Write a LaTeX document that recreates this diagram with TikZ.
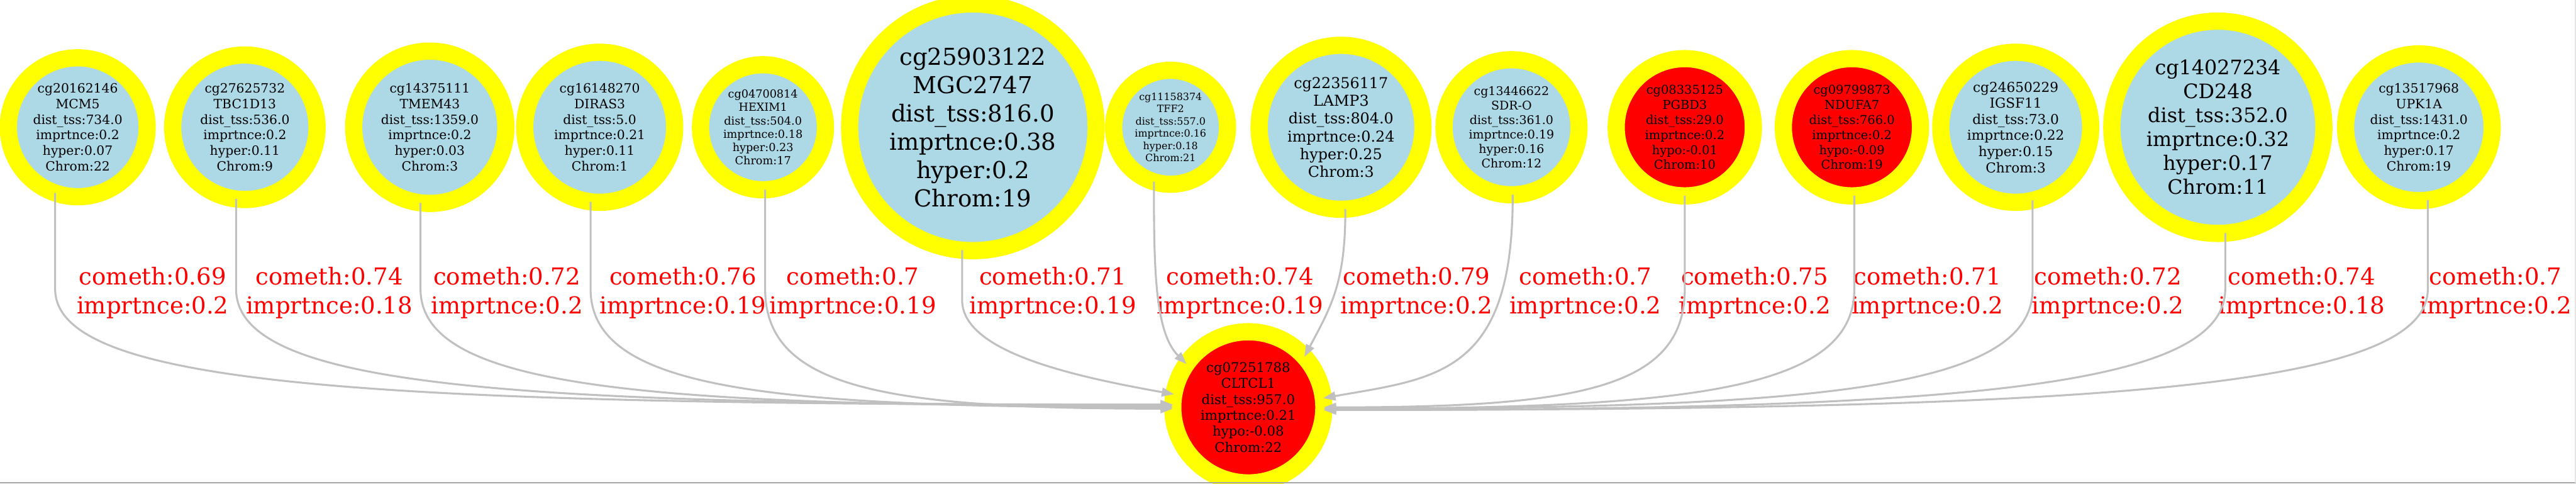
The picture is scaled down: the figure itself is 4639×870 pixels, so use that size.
\documentclass[tikz,border=0pt]{standalone}
\usepackage{fontspec}
\setmainfont{DejaVu Serif}
\usetikzlibrary{arrows.meta}
\definecolor{lblue}{HTML}{ADD8E6}
\definecolor{ring}{HTML}{FFFF00}
\definecolor{hred}{HTML}{FF0000}
\definecolor{egray}{HTML}{C0C0C0}

\begin{document}
\begin{tikzpicture}[x=1pt,y=1pt,
   cpg/.style n args={3}{circle,fill=lblue,draw=ring,line width=31pt,inner sep=0pt,
      outer sep=0pt,align=center,minimum size=#1pt,font=\fontsize{#2}{#3}\selectfont},
   hypo/.style={fill=hred},
   cometh/.style={draw=egray,line width=3.5pt,-{Triangle[length=22pt,width=16pt]}},
   elab/.style={text=hred,align=center,inner sep=0pt,font=\fontsize{42}{52}\selectfont}]
  \useasboundingbox (0,0) rectangle (4639,-870);
  \clip (0,0) rectangle (4639,-870);
  % probes on the top row
  \node[cpg={250}{23}{28}] (n1) at (140,-229) {cg20162146\\MCM5\\dist\_tss:734.0\\imprtnce:0.2\\hyper:0.07\\Chrom:22};
  \node[cpg={260}{23}{28}] (n2) at (441,-229) {cg27625732\\TBC1D13\\dist\_tss:536.0\\imprtnce:0.2\\hyper:0.11\\Chrom:9};
  \node[cpg={274}{23}{28}] (n3) at (774,-229) {cg14375111\\TMEM43\\dist\_tss:1359.0\\imprtnce:0.2\\hyper:0.03\\Chrom:3};
  \node[cpg={270}{23}{28}] (n4) at (1080,-229) {cg16148270\\DIRAS3\\dist\_tss:5.0\\imprtnce:0.21\\hyper:0.11\\Chrom:1};
  \node[cpg={225}{20}{24}] (n5) at (1374,-229) {cg04700814\\HEXIM1\\dist\_tss:504.0\\imprtnce:0.18\\hyper:0.23\\Chrom:17};
  \node[cpg={444}{42}{51}] (n6) at (1752,-229) {cg25903122\\MGC2747\\dist\_tss:816.0\\imprtnce:0.38\\hyper:0.2\\Chrom:19};
  \node[cpg={205}{18}{22}] (n7) at (2108,-229) {cg11158374\\TFF2\\dist\_tss:557.0\\imprtnce:0.16\\hyper:0.18\\Chrom:21};
  \node[cpg={295}{27}{32}] (n8) at (2415,-229) {cg22356117\\LAMP3\\dist\_tss:804.0\\imprtnce:0.24\\hyper:0.25\\Chrom:3};
  \node[cpg={243}{21.5}{26}] (n9) at (2722,-229) {cg13446622\\SDR-O\\dist\_tss:361.0\\imprtnce:0.19\\hyper:0.16\\Chrom:12};
  \node[cpg={247}{22}{27},hypo] (n10) at (3034,-229) {cg08335125\\PGBD3\\dist\_tss:29.0\\imprtnce:0.2\\hypo:-0.01\\Chrom:10};
  \node[cpg={247}{22}{27},hypo] (n11) at (3335,-229) {cg09799873\\NDUFA7\\dist\_tss:766.0\\imprtnce:0.2\\hypo:-0.09\\Chrom:19};
  \node[cpg={270}{24.5}{29}] (n12) at (3630,-229) {cg24650229\\IGSF11\\dist\_tss:73.0\\imprtnce:0.22\\hyper:0.15\\Chrom:3};
  \node[cpg={382}{36}{43}] (n13) at (3994,-229) {cg14027234\\CD248\\dist\_tss:352.0\\imprtnce:0.32\\hyper:0.17\\Chrom:11};
  \node[cpg={264}{23}{28}] (n14) at (4356,-229) {cg13517968\\UPK1A\\dist\_tss:1431.0\\imprtnce:0.2\\hyper:0.17\\Chrom:19};
  % the probe they all point to
  \node[cpg={272}{24}{28.7},hypo] (tgt) at (2248,-733) {cg07251788\\CLTCL1\\dist\_tss:957.0\\imprtnce:0.21\\hypo:-0.08\\Chrom:22};

  \foreach \x/\c/\m [count=\k] in {275/0.69/0.2,593/0.74/0.18,913/0.72/0.2,1230/0.76/0.19,
      1536/0.7/0.19,1896/0.71/0.19,2233/0.74/0.19,2551/0.79/0.2,2855/0.7/0.2,3160/0.75/0.2,
      3471/0.71/0.2,3796/0.72/0.2,4145/0.74/0.18,4494/0.7/0.2}
    \node[elab] (l\k) at (\x,-527) {cometh:\c\\imprtnce:\m};

  % source anchor / depth of the bend / drop / target anchor / in angle / in distance
  \foreach \s/\sa/\b/\d/\ta/\ia/\id in {n1/-109/520/180/178/180/1409,
      n2/-97/520/180/178/180/1181,n3/-97/520/180/179/180/948,n4/-97/520/180/180/180/734,
      n5/-88/520/180/181/180/514,n6/-95/540/90/170/170/200,n7/-107/335/150/145/135/80,
      n8/-87/380/130/42/62/100,n9/-89/355/320/7/10/205,n10/-90/520/180/0/0/455,
      n11/-88/520/180/-1/0/668,n12/-77/520/180/-1/0/893,n13/-86/520/180/-2/0/1136,
      n14/-83/520/180/-2/0/1391}
    \draw[cometh] (\s.\sa) -- (\s.\sa |- 0,-\b) .. controls +(0,-\d) and +(\ia:\id pt) .. (tgt.\ta);

  \draw[gray!70,line width=2pt] (0,-869) -- (4639,-869);
  \draw[gray!20,line width=2pt] (4638,-869) -- (4638,0);
\end{tikzpicture}
\end{document}
